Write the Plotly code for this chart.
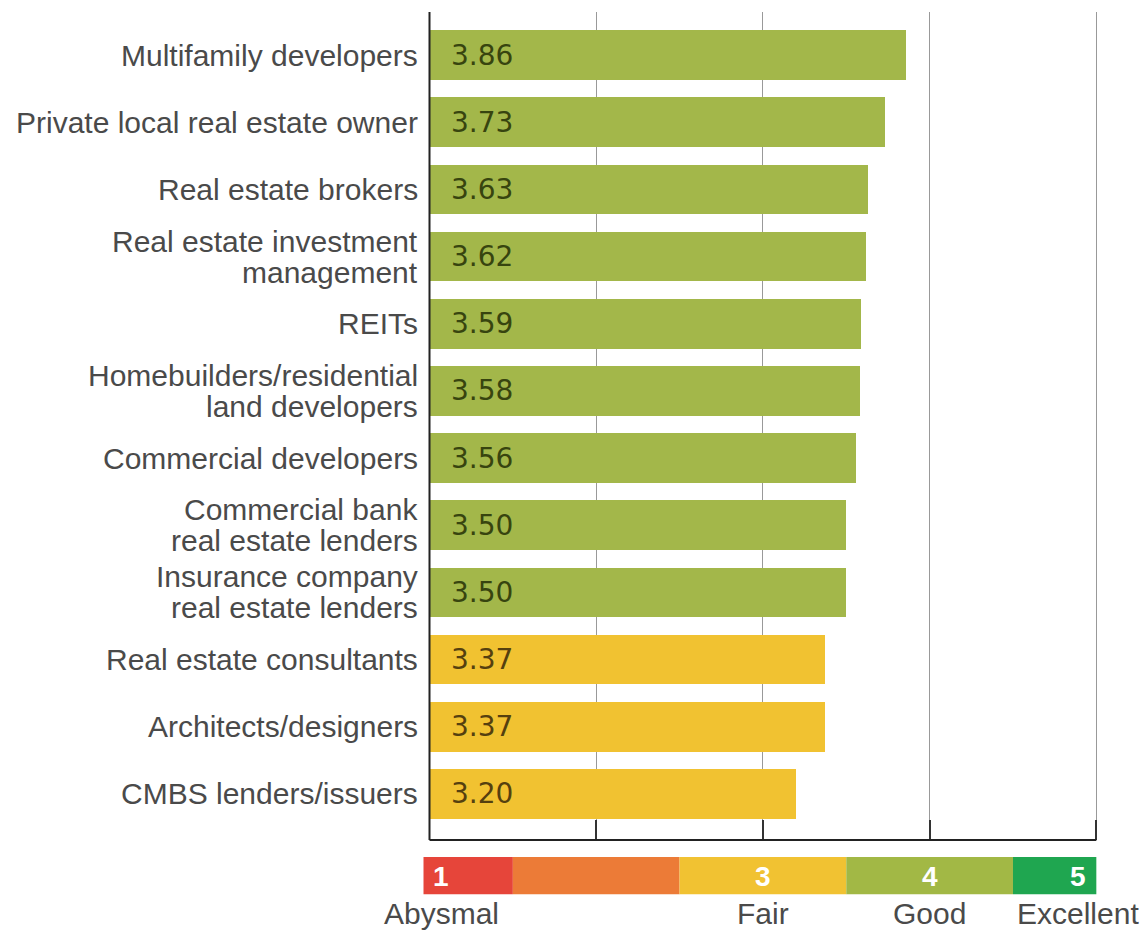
import plotly.graph_objects as go

# Survey ratings by respondent group (scale 1 = abysmal ... 5 = excellent)
categories = [
    "Multifamily developers",
    "Private local real estate owner",
    "Real estate brokers",
    "Real estate investment<br>management",
    "REITs",
    "Homebuilders/residential<br>land developers",
    "Commercial developers",
    "Commercial bank<br>real estate lenders",
    "Insurance company<br>real estate lenders",
    "Real estate consultants",
    "Architects/designers",
    "CMBS lenders/issuers",
]
ratings = [3.86, 3.73, 3.63, 3.62, 3.59, 3.58, 3.56, 3.50, 3.50, 3.37, 3.37, 3.20]

# Colour key along the bottom of the chart
band_starts = [0.964, 1.5, 2.5, 3.5, 4.5]
band_ends = [1.5, 2.5, 3.5, 4.5, 5.0]
band_colors = ["#e6453a", "#ec7b37", "#f1c232", "#a2b845", "#1fa650"]
key_numbers = ["1", "", "3", "4", "5"]
key_words = ["Abysmal", "", "Fair", "Good", "Excellent"]
key_positions = [1.07, 2.0, 3.0, 4.0, 4.89]

GREEN = "#a3b74a"
YELLOW = "#f1c231"
LABEL_GREY = "#4a4a4a"

ypos = list(range(len(categories)))
bar_colors = [GREEN if v >= 3.5 else YELLOW for v in ratings]

fig = go.Figure(
    go.Bar(
        y=ypos,
        x=[v - 1 for v in ratings],
        base=[1] * len(ratings),
        orientation="h",
        width=0.74,
        marker=dict(color=bar_colors, line=dict(width=0)),
        hoverinfo="skip",
    )
)

annotations = []
# category labels, one annotation per line for tight line spacing
for i, cat in enumerate(categories):
    lines = cat.split("<br>")
    n = len(lines)
    for j, line in enumerate(lines):
        shift = (n - 1) * 15.5 - j * 31
        annotations.append(dict(
            x=0, xref="paper", xanchor="right", xshift=-2,
            y=i, yref="y", yanchor="middle", yshift=shift,
            text=line, showarrow=False,
            font=dict(family="Liberation Sans, Arial, sans-serif", size=30, color=LABEL_GREY),
        ))

# value labels inside the bars
for i, v in enumerate(ratings):
    annotations.append(dict(
        x=1, xref="x", xanchor="left", xshift=19,
        y=i, yref="y", yanchor="middle",
        text=f"{v:.2f}", showarrow=False,
        font=dict(family="DejaVu Sans, sans-serif", size=28,
                  color="#37440f" if v >= 3.5 else "#55400f"),
    ))

shapes = []
for x0, x1, c in zip(band_starts, band_ends, band_colors):
    shapes.append(dict(type="rect", xref="x", yref="paper",
                       x0=x0, x1=x1, y0=-0.0205, y1=-0.0655,
                       fillcolor=c, line=dict(width=0), layer="above"))

for xpos, num, word in zip(key_positions, key_numbers, key_words):
    if num:
        annotations.append(dict(
            x=xpos, xref="x", xanchor="center",
            y=0, yref="paper", yanchor="middle", yshift=-36,
            text=f"<b>{num}</b>", showarrow=False,
            font=dict(family="Liberation Sans Narrow, Liberation Sans, Arial", size=28, color="white"),
        ))
    if word:
        annotations.append(dict(
            x=xpos, xref="x", xanchor="center",
            y=0, yref="paper", yanchor="middle", yshift=-73,
            text=word, showarrow=False,
            font=dict(family="Liberation Sans, Arial, sans-serif", size=30, color=LABEL_GREY),
        ))

# left axis line at rating 1 and baseline
shapes.append(dict(type="line", xref="x", yref="paper", x0=1, x1=1, y0=0, y1=1,
                   line=dict(color="#222222", width=2), layer="above"))
shapes.append(dict(type="line", xref="x", yref="paper", x0=1, x1=5, y0=0, y1=0,
                   line=dict(color="#222222", width=2), layer="above"))

fig.update_layout(
    width=1147, height=933,
    margin=dict(l=422, r=49, t=12, b=93),
    paper_bgcolor="white", plot_bgcolor="white",
    showlegend=False,
    bargap=0,
    xaxis=dict(
        range=[0.955, 5.01], tickvals=[2, 3, 4, 5], showticklabels=False,
        showgrid=True, gridcolor="#999999", gridwidth=1,
        ticks="inside", ticklen=20, tickcolor="#333333", tickwidth=2,
        zeroline=False, showline=False, fixedrange=True,
    ),
    yaxis=dict(
        range=[11.685, -0.64], showticklabels=False, showgrid=False,
        zeroline=False, showline=False, fixedrange=True,
    ),
    shapes=shapes,
    annotations=annotations,
)

fig.write_html("out.html")
